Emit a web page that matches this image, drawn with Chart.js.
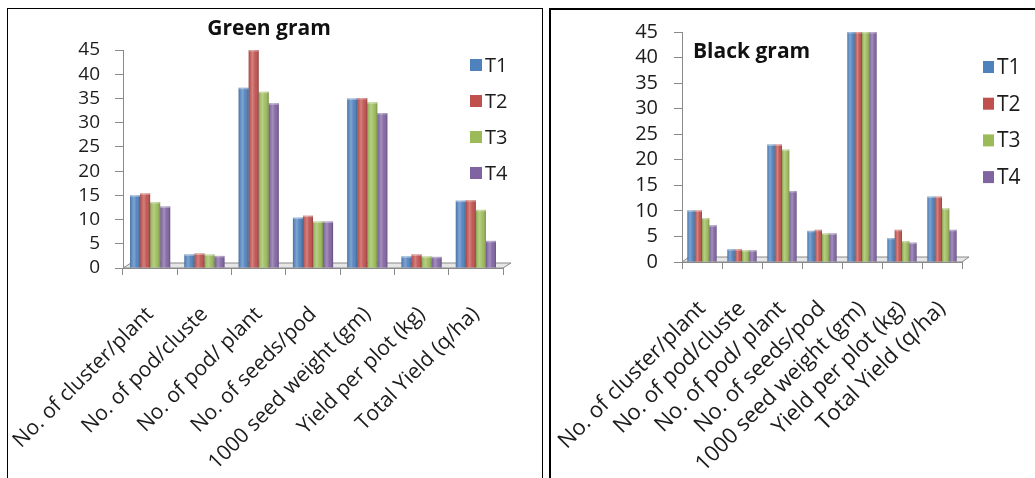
<!DOCTYPE html>
<html>
<head>
<meta charset="utf-8">
<script src="https://cdn.jsdelivr.net/npm/chart.js@4/dist/chart.umd.min.js"></script>
<style>
  html, body { margin: 0; padding: 0; background: #fff; width: 1035px; height: 478px; overflow: hidden; }
  .panel { position: absolute; background: #fff; box-sizing: border-box; }
  #boxGreen { left: 7px; top: 8px; width: 536px; height: 490px; border: 1px solid #000; }
  #boxBlack { left: 549px; top: 8px; width: 500px; height: 490px; border: 2px solid #000; }
  canvas { position: absolute; left: 0; top: 0; }
</style>
</head>
<body>
<div class="panel" id="boxGreen"><canvas id="green" width="534" height="469"></canvas></div>
<div class="panel" id="boxBlack"><canvas id="black" width="484" height="468"></canvas></div>
<script>
// Yield attributes measured for each treatment
const categories = [
  'No. of cluster/plant',
  'No. of pod/cluste',
  'No. of pod/ plant',
  'No. of seeds/pod',
  '1000 seed weight (gm)',
  'Yield per plot (kg)',
  'Total Yield (q/ha)'
];
const treatments = ['T1', 'T2', 'T3', 'T4'];
const treatmentColors = ['#4F81BD', '#C0504D', '#9BBB59', '#8064A2'];
const yTickValues = [0, 5, 10, 15, 20, 25, 30, 35, 40, 45];

// Green gram
const greenT1 = [15.0, 2.8, 37.2, 10.4, 35.0, 2.4, 13.9];
const greenT2 = [15.4, 3.0, 45.0, 10.8, 35.1, 2.8, 14.0];
const greenT3 = [13.6, 2.8, 36.4, 9.6, 34.2, 2.4, 12.0];
const greenT4 = [12.7, 2.5, 34.0, 9.6, 32.0, 2.3, 5.6];

// Black gram
const blackT1 = [10.1, 2.5, 23.0, 6.1, 45.0, 4.7, 12.8];
const blackT2 = [10.1, 2.5, 23.0, 6.3, 45.0, 6.3, 12.8];
const blackT3 = [8.6, 2.3, 22.0, 5.6, 45.0, 4.1, 10.5];
const blackT4 = [7.2, 2.3, 13.9, 5.6, 45.0, 3.8, 6.3];

const FONT = "'Open Sans', 'DejaVu Sans', sans-serif";
const TEXT = '#1c1c1c';
const AXIS = '#8a8a8a';

// Floor band, column shading, title and side legend
const panelDecor = {
  id: 'panelDecor',
  beforeDatasetsDraw(chart, args, o) {
    const { ctx, chartArea } = chart;
    const y0 = chart.scales.y.getPixelForValue(0);
    const l = chartArea.left, r = chartArea.right;
    ctx.save();
    ctx.beginPath();
    ctx.moveTo(l, y0);
    ctx.lineTo(r, y0);
    ctx.lineTo(r + o.depthX, y0 - o.depthY);
    ctx.lineTo(l + o.depthX, y0 - o.depthY);
    ctx.closePath();
    ctx.fillStyle = '#e6e6e6';
    ctx.fill();
    ctx.strokeStyle = AXIS;
    ctx.lineWidth = 1;
    ctx.stroke();
    ctx.restore();
  },
  afterDatasetsDraw(chart) {
    const ctx = chart.ctx;
    ctx.save();
    chart.data.datasets.forEach((ds, i) => {
      const meta = chart.getDatasetMeta(i);
      meta.data.forEach(bar => {
        const p = bar.getProps(['x', 'y', 'base', 'width'], true);
        const left = p.x - p.width / 2;
        const g = ctx.createLinearGradient(left, 0, left + p.width, 0);
        g.addColorStop(0, 'rgba(0,0,0,0.22)');
        g.addColorStop(0.18, 'rgba(255,255,255,0.10)');
        g.addColorStop(0.38, 'rgba(255,255,255,0.28)');
        g.addColorStop(0.65, 'rgba(255,255,255,0.05)');
        g.addColorStop(1, 'rgba(0,0,0,0.25)');
        ctx.fillStyle = g;
        ctx.fillRect(left, p.y, p.width, p.base - p.y);
        ctx.fillStyle = 'rgba(255,255,255,0.35)';
        ctx.fillRect(left, p.y, p.width, 1.5);
      });
    });
    ctx.restore();
  },
  afterDraw(chart, args, o) {
    const ctx = chart.ctx;
    ctx.save();
    const t = o.title;
    ctx.font = 'bold ' + t.size + 'px ' + FONT;
    ctx.fillStyle = '#111';
    ctx.textAlign = t.align;
    ctx.textBaseline = 'middle';
    ctx.fillText(t.text, t.x, t.y);

    const lg = o.legend;
    ctx.font = lg.size + 'px ' + FONT;
    ctx.textAlign = 'left';
    chart.data.datasets.forEach((ds, i) => {
      const cy = lg.y + i * lg.gap;
      ctx.fillStyle = ds.backgroundColor;
      ctx.fillRect(lg.x, cy - lg.boxH / 2, lg.boxW, lg.boxH);
      ctx.fillStyle = TEXT;
      ctx.fillText(ds.label, lg.textX, cy + 1);
    });
    ctx.restore();
  }
};

function makeChart(id, series, geo) {
  const datasets = series.map((values, i) => ({
    label: treatments[i],
    data: values,
    backgroundColor: treatmentColors[i],
    borderWidth: 0,
    barPercentage: 1.0,
    categoryPercentage: geo.catPct
  }));
  return new Chart(document.getElementById(id), {
    type: 'bar',
    data: { labels: categories, datasets },
    plugins: [panelDecor],
    options: {
      responsive: false,
      animation: false,
      devicePixelRatio: 1,
      layout: { padding: { left: 0, top: geo.padTop, right: geo.padRight, bottom: 0 } },
      plugins: {
        legend: { display: false },
        title: { display: false },
        tooltip: { enabled: false },
        panelDecor: geo.decor
      },
      scales: {
        x: {
          grid: { display: true, drawOnChartArea: false, offset: true, tickLength: 7, color: AXIS },
          border: { display: true, color: AXIS },
          ticks: {
            autoSkip: false, maxRotation: 45, minRotation: 45,
            padding: geo.labelPad,
            color: TEXT,
            font: { family: FONT, size: geo.labelSize }
          },
          afterFit(scale) { scale.height = geo.xHeight; scale.paddingLeft = 0; scale.paddingRight = 0; }
        },
        y: {
          min: 0, max: 45,
          afterBuildTicks(scale) { scale.ticks = yTickValues.map(v => ({ value: v })); },
          grid: { display: true, drawOnChartArea: false, tickLength: 8, color: AXIS },
          border: { display: true, color: AXIS },
          ticks: { autoSkip: false, padding: geo.tickPad, color: TEXT, font: { family: FONT, size: geo.tickSize } },
          afterFit(scale) { scale.width = geo.yWidth; scale.paddingTop = 0; scale.paddingBottom = 0; }
        }
      }
    }
  });
}

makeChart('green', [greenT1, greenT2, greenT3, greenT4], {
  catPct: 0.74, padTop: 41, padRight: 39, xHeight: 210, yWidth: 115,
  labelPad: 27, labelSize: 21, tickPad: 15, tickSize: 19,
  decor: {
    depthX: 8, depthY: 5,
    title: { text: 'Green gram', x: 261, y: 20, size: 21, align: 'center' },
    legend: { x: 462, y: 56, gap: 36, boxW: 12, boxH: 12, textX: 477, size: 20 }
  }
});

makeChart('black', [blackT1, blackT2, blackT3, blackT4], {
  catPct: 0.73, padTop: 22, padRight: 73, xHeight: 216, yWidth: 131,
  labelPad: 27, labelSize: 22, tickPad: 16, tickSize: 20,
  decor: {
    depthX: 7, depthY: 5,
    title: { text: 'Black gram', x: 142, y: 42, size: 21, align: 'left' },
    legend: { x: 432, y: 57, gap: 36.7, boxW: 11, boxH: 12, textX: 446, size: 21 }
  }
});
</script>
</body>
</html>
